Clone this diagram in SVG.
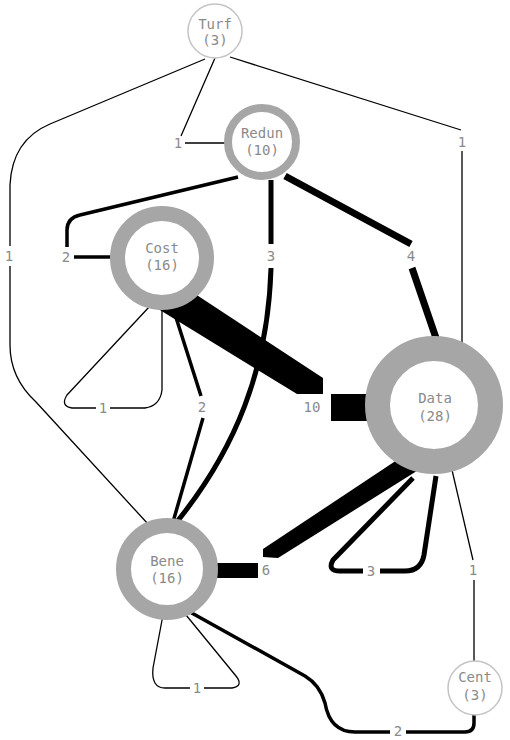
<svg xmlns="http://www.w3.org/2000/svg" width="510" height="740" viewBox="0 0 510 740">
<style>
.e{fill:none;stroke:#000;stroke-linecap:butt;stroke-linejoin:round}
.w1{stroke-width:1.3}
.w2{stroke-width:3.5}
.w3{stroke-width:5}
.w4{stroke-width:7}
.t{font-family:"DejaVu Sans Mono","Liberation Mono",monospace;font-size:14px;fill:#8a8a8a;text-anchor:middle;dominant-baseline:central}
.ring{fill:#fff;stroke:#a6a6a6}
.thin{fill:#fff;stroke:#c4c4c4;stroke-width:1.5}
</style>
<rect width="510" height="740" fill="#fff"/>
<g id="connectors">
  <!-- Turf-Redun 1 -->
  <path class="e w1" d="M215,58 L181,136 M185,143 L226,143"/>
  <text class="t" x="178" y="143">1</text>
  <!-- Turf-Data 1 -->
  <path class="e w1" d="M230,57 L461,130 M462,151 L462,342"/>
  <text class="t" x="462" y="142">1</text>
  <!-- Turf-Bene 1 -->
  <path class="e w1" d="M205,59 L50,124 Q12,140 10,185 L10,246 M10,266 L10,345 Q10,378 36,402 L148,524"/>
  <text class="t" x="9" y="256">1</text>
  <!-- Redun-Cost 2 -->
  <path class="e w2" d="M238,177 L80,215 Q67,218 67,230 L67,247 M74,257 L112,257"/>
  <text class="t" x="66" y="257">2</text>
  <!-- Redun-Bene 3 -->
  <path class="e w3" d="M271,180 L271,244 M271,268 C268,370 235,450 176,523"/>
  <text class="t" x="271" y="256">3</text>
  <!-- Redun-Data 4 -->
  <path class="e w4" d="M285,176 L411,244 M412,268 L436,338"/>
  <text class="t" x="411" y="256">4</text>
  <!-- Cost-Data 10 -->
  <polygon points="180,284 323,378 323,394 297,394 155,307" fill="#000"/>
  <rect x="331" y="394" width="38" height="27" fill="#000"/>
  <text class="t" x="312" y="407">10</text>
  <!-- Cost-Bene 2 -->
  <path class="e w2" d="M173,308 L201,396 M203,418 L173,522"/>
  <text class="t" x="202" y="407">2</text>
  <!-- Cost self 1 -->
  <path class="e w1" d="M150,306 L67,395 Q60,406 72,408 L96,408 M110,408 L145,408 Q160,406 162,390 L162,310"/>
  <text class="t" x="103" y="408">1</text>
  <!-- Data-Bene 6 -->
  <polygon points="263,549 400,458 420,469 278,558 263,557" fill="#000"/>
  <rect x="214" y="563" width="44" height="15" fill="#000"/>
  <text class="t" x="266" y="570">6</text>
  <!-- Data self 3 -->
  <path class="e w3" d="M413,478 L333,560 Q327,571 340,571 L363,571 M380,571 L405,571 Q421,571 424,555 L436,476"/>
  <text class="t" x="371" y="571">3</text>
  <!-- Data-Cent 1 -->
  <path class="e w1" d="M452,470 L473,560 M474,580 L474,662"/>
  <text class="t" x="473" y="570">1</text>
  <!-- Bene-Cent 2 -->
  <path class="e w2" d="M190,612 L305,676 Q320,685 325,703 Q330,732 355,732 L390,732 M406,732 L465,732 Q474,732 474,723 L474,714"/>
  <text class="t" x="398" y="731">2</text>
  <!-- Bene self 1 -->
  <path class="e w1" d="M163,615 L153,668 Q151,688 165,688 L190,688 M204,688 L232,688 Q244,686 236,676 L186,615"/>
  <text class="t" x="197" y="688">1</text>
</g>
<g id="node-turf">
  <circle class="thin" cx="215" cy="31" r="27"/>
  <text class="t" x="215" y="24">Turf</text>
  <text class="t" x="215" y="40">(3)</text>
</g>
<g id="node-redun">
  <circle class="ring" cx="262" cy="142" r="34" stroke-width="8"/>
  <text class="t" x="262" y="133">Redun</text>
  <text class="t" x="262" y="150">(10)</text>
</g>
<g id="node-cost">
  <circle class="ring" cx="162" cy="258" r="44.5" stroke-width="15"/>
  <text class="t" x="162" y="248">Cost</text>
  <text class="t" x="162" y="265">(16)</text>
</g>
<g id="node-data">
  <circle class="ring" cx="434" cy="405" r="56.5" stroke-width="25"/>
  <text class="t" x="435" y="398">Data</text>
  <text class="t" x="435" y="416">(28)</text>
</g>
<g id="node-bene">
  <circle class="ring" cx="167" cy="569" r="43.5" stroke-width="15"/>
  <text class="t" x="167" y="561">Bene</text>
  <text class="t" x="167" y="578">(16)</text>
</g>
<g id="node-cent">
  <circle class="thin" cx="475" cy="688" r="27"/>
  <text class="t" x="475" y="677">Cent</text>
  <text class="t" x="475" y="695">(3)</text>
</g>
</svg>
